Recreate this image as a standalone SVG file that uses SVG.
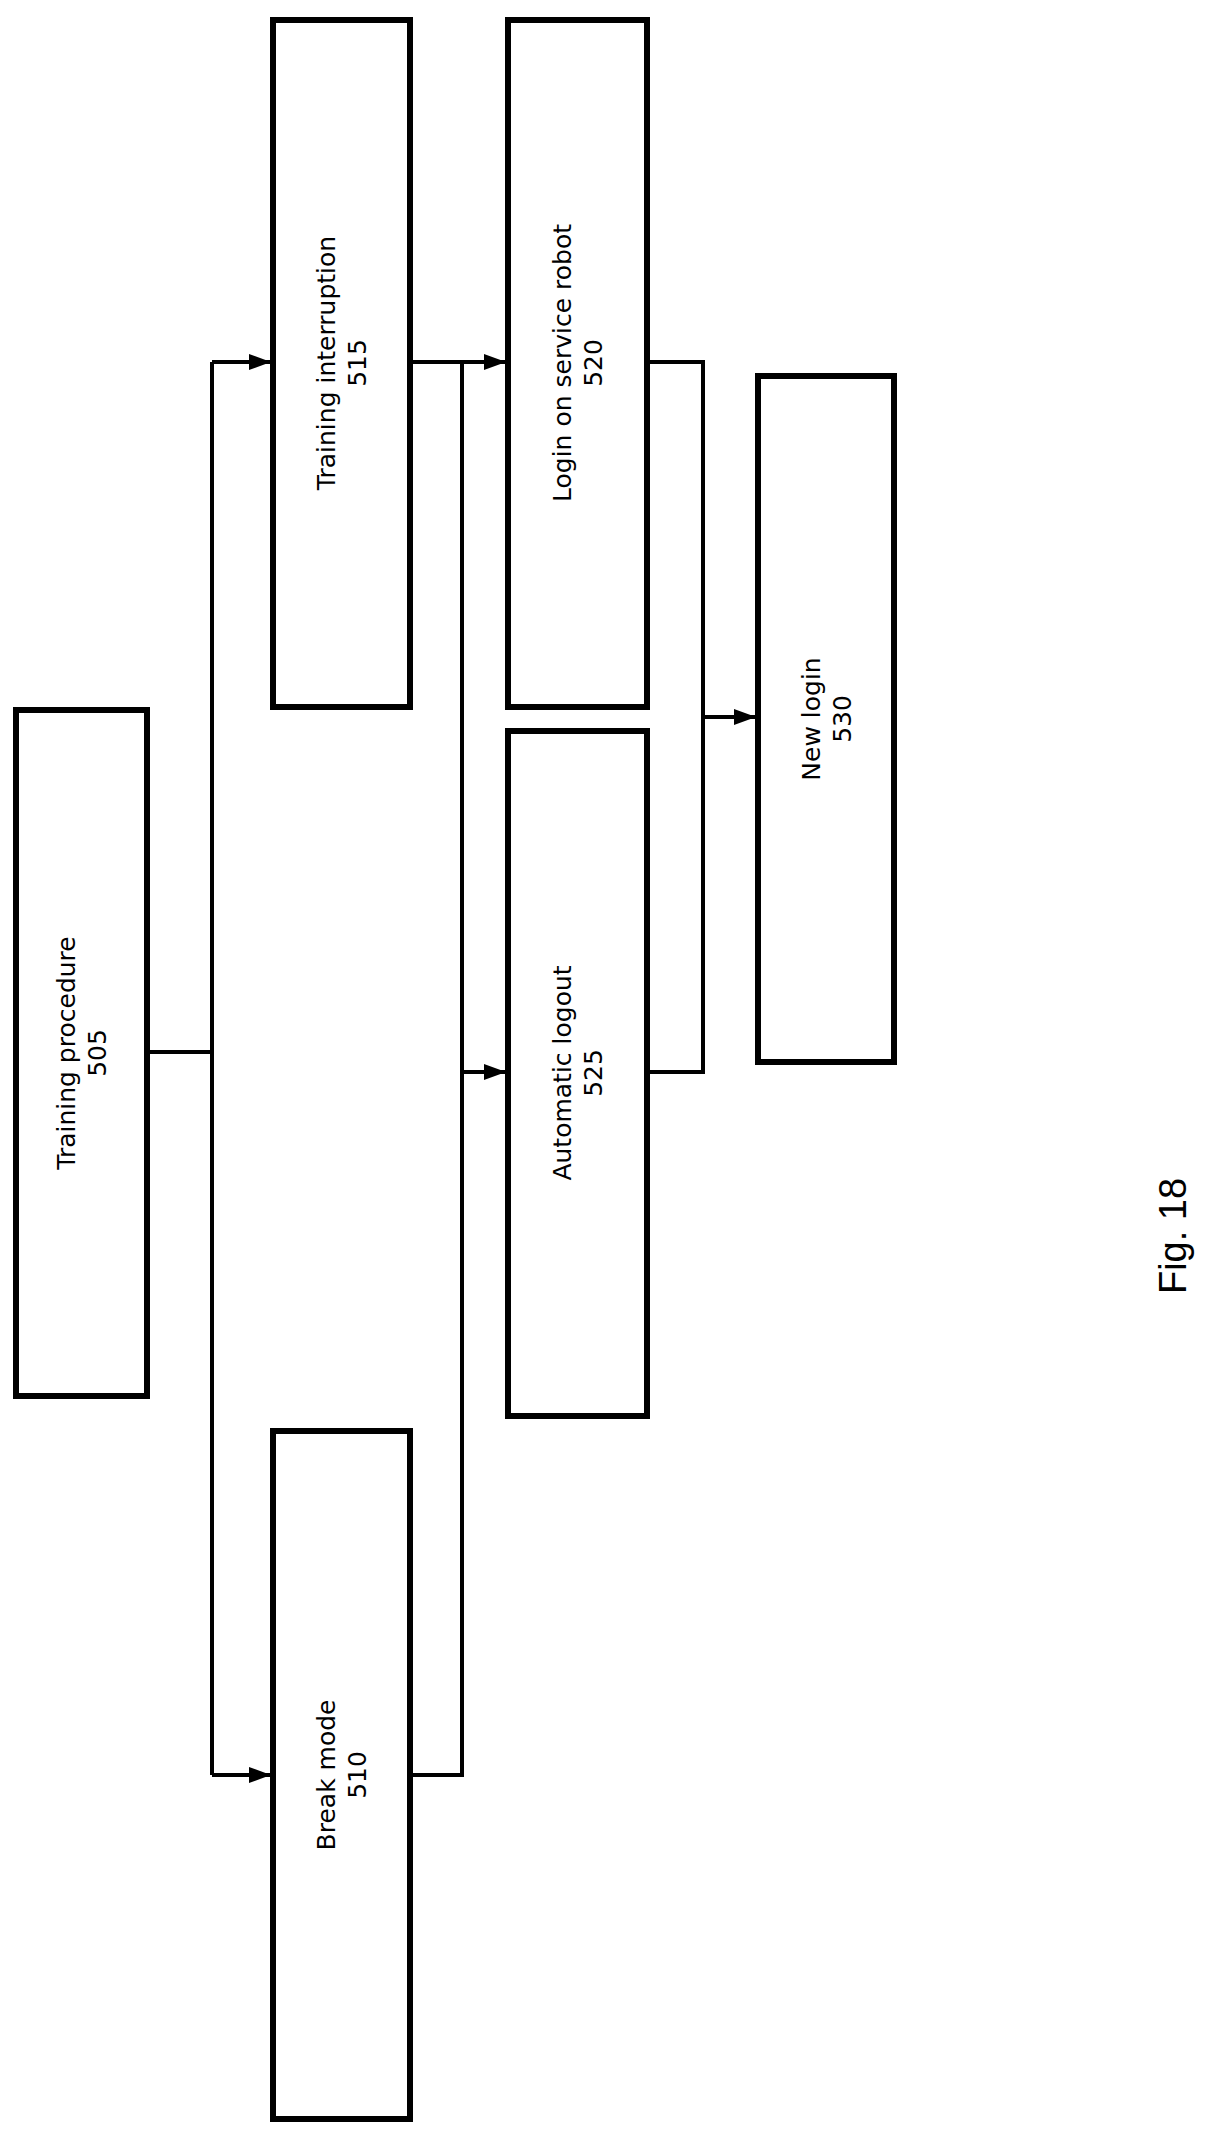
<svg xmlns="http://www.w3.org/2000/svg" width="1229" height="2144" viewBox="0 0 1229 2144">
<style>
.b{fill:#fff;stroke:#000;stroke-width:6}
.c{fill:none;stroke:#000;stroke-width:4}
text{font-family:"DejaVu Sans",sans-serif;font-size:25px;text-anchor:middle;fill:#000}
</style>
<defs><marker id="a" markerWidth="22" markerHeight="16" refX="21" refY="8" orient="auto" markerUnits="userSpaceOnUse" viewBox="0 0 22 16"><path d="M0,0L22,8L0,16z"/></marker></defs>
<rect width="1229" height="2144" fill="#fff"/>
<g id="connectors">
<path class="c" d="M147,1052H212"/>
<path class="c" d="M212,362V1775"/>
<path class="c" d="M212,362H270" marker-end="url(#a)"/>
<path class="c" d="M212,1775H270" marker-end="url(#a)"/>
<path class="c" d="M410,362H505" marker-end="url(#a)"/>
<path class="c" d="M410,1775H462V362"/>
<path class="c" d="M462,1072H505" marker-end="url(#a)"/>
<path class="c" d="M647,362H703V1072H647"/>
<path class="c" d="M703,717H755" marker-end="url(#a)"/>
</g>
<g id="n505"><rect class="b" x="16" y="710" width="131" height="686"/><text transform="translate(81,1053) rotate(-90)"><tspan x="0" y="-6">Training procedure</tspan><tspan x="0" y="25">505</tspan></text></g>
<g id="n510"><rect class="b" x="273" y="1431" width="137" height="688"/><text transform="translate(341,1775) rotate(-90)"><tspan x="0" y="-6">Break mode</tspan><tspan x="0" y="25">510</tspan></text></g>
<g id="n515"><rect class="b" x="273" y="20" width="137" height="687"/><text transform="translate(341,363) rotate(-90)"><tspan x="0" y="-6">Training interruption</tspan><tspan x="0" y="25">515</tspan></text></g>
<g id="n520"><rect class="b" x="508" y="20" width="139" height="687"/><text transform="translate(577,363) rotate(-90)"><tspan x="0" y="-6">Login on service robot</tspan><tspan x="0" y="25">520</tspan></text></g>
<g id="n525"><rect class="b" x="508" y="731" width="139" height="685"/><text transform="translate(577,1073) rotate(-90)"><tspan x="0" y="-6">Automatic logout</tspan><tspan x="0" y="25">525</tspan></text></g>
<g id="n530"><rect class="b" x="758" y="376" width="136" height="686"/><text transform="translate(826,719) rotate(-90)"><tspan x="0" y="-6">New login</tspan><tspan x="0" y="25">530</tspan></text></g>
<text transform="translate(1186,1236) rotate(-90)" style="font-family:'Liberation Sans',sans-serif;font-size:38px">Fig. 18</text>
</svg>
